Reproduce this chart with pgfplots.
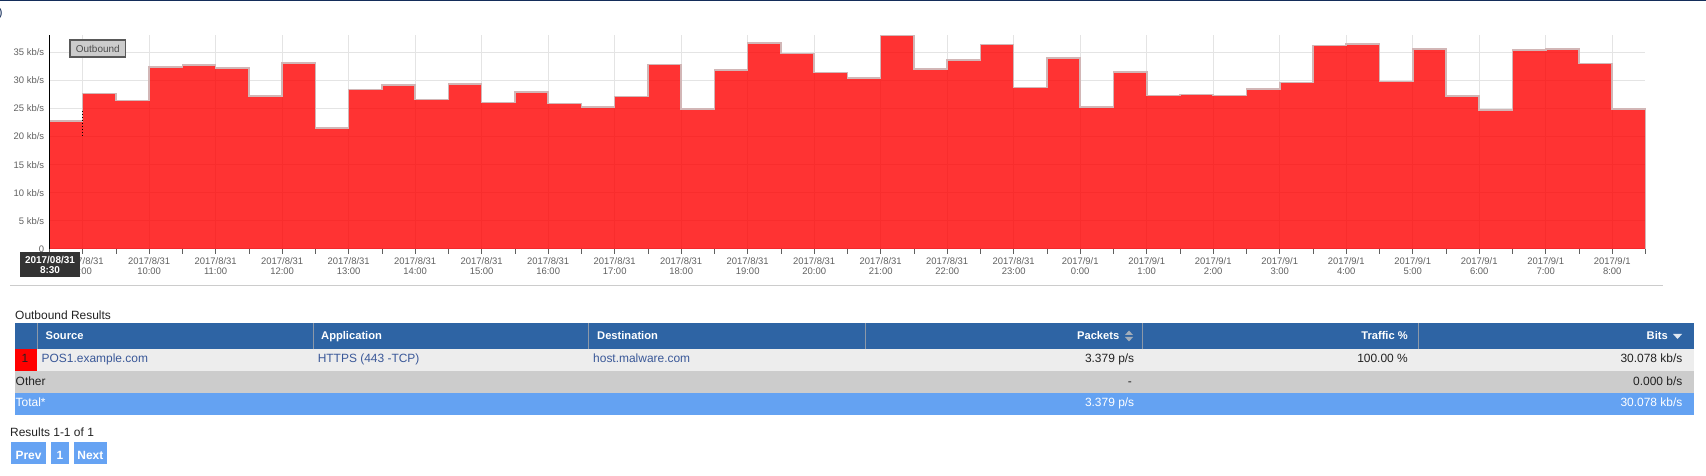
\documentclass[border=0pt]{standalone}
\usepackage{pgfplots}
\pgfplotsset{compat=1.18}
\usepackage{fontspec}
\setmainfont{Liberation Sans}
\definecolor{hdr}{RGB}{46,100,164}
\definecolor{rowa}{RGB}{237,237,237}
\definecolor{rowo}{RGB}{204,204,204}
\definecolor{tot}{RGB}{100,162,242}
\definecolor{btn}{RGB}{102,163,243}
\definecolor{linkc}{RGB}{58,88,152}
\definecolor{lbl}{RGB}{96,96,96}
\definecolor{gridc}{RGB}{228,228,228}
\definecolor{areared}{RGB}{255,0,0}
\definecolor{stepline}{RGB}{210,182,182}
\definecolor{navy}{RGB}{20,45,90}
\definecolor{tipbg}{RGB}{51,51,51}
\definecolor{sepc}{RGB}{140,152,168}
\definecolor{xline}{RGB}{192,208,224}
\definecolor{txt}{RGB}{34,34,34}
\begin{document}
\begin{tikzpicture}
\begin{scope}[x=1bp,y=1bp]
\fill[navy] (0,474.8) rectangle (1706,476);
\end{scope}
\begin{axis}[
  at={(49.4bp,227bp)}, anchor=origin,
  scale only axis, width=1596.1bp, height=214bp,
  xmin=0, xmax=48, ymin=0, ymax=38.08,
  clip=false,
  axis x line*=bottom, axis y line*=left,
  axis line style={-},
  x axis line style={draw=xline, line width=1bp},
  y axis line style={draw=none},
  xtick={1,3,...,47},
  minor xtick={0,2,...,48},
  xticklabels={{2017/8/31\\9:00},{2017/8/31\\10:00},{2017/8/31\\11:00},{2017/8/31\\12:00},{2017/8/31\\13:00},{2017/8/31\\14:00},{2017/8/31\\15:00},{2017/8/31\\16:00},{2017/8/31\\17:00},{2017/8/31\\18:00},{2017/8/31\\19:00},{2017/8/31\\20:00},{2017/8/31\\21:00},{2017/8/31\\22:00},{2017/8/31\\23:00},{2017/9/1\\0:00},{2017/9/1\\1:00},{2017/9/1\\2:00},{2017/9/1\\3:00},{2017/9/1\\4:00},{2017/9/1\\5:00},{2017/9/1\\6:00},{2017/9/1\\7:00},{2017/9/1\\8:00}},
  ytick={0,5,...,35},
  yticklabels={0,5 kb/s,10 kb/s,15 kb/s,20 kb/s,25 kb/s,30 kb/s,35 kb/s},
  xmajorgrids, ymajorgrids,
  major grid style={draw=gridc, line width=1bp},
  tick align=outside,
  major tick length=5bp, minor tick length=5bp,
  xtick style={draw=lbl, line width=0.8bp},
  ytick style={draw=none},
  yticklabel style={font=\fontsize{9.5}{10}\selectfont, text=lbl, inner sep=0},
  xticklabel style={font=\fontsize{9.5}{10}\selectfont, text=lbl, align=center, inner sep=0, yshift=-3bp},
]
\addplot[const plot, fill=areared, fill opacity=0.8, draw=none] coordinates {
(0,22.8) (1,27.7) (2,26.4) (3,32.4) (4,32.7) (5,32.2) (6,27.2) (7,33.1)
(8,21.5) (9,28.4) (10,29.2) (11,26.6) (12,29.4) (13,26.1) (14,27.9) (15,25.9)
(16,25.3) (17,27.1) (18,32.8) (19,24.9) (20,31.9) (21,36.7) (22,34.8) (23,31.4)
(24,30.4) (25,38.0) (26,32.0) (27,33.6) (28,36.4) (29,28.7) (30,34.0) (31,25.3)
(32,31.5) (33,27.3) (34,27.5) (35,27.3) (36,28.5) (37,29.6) (38,36.2) (39,36.5)
(40,29.8) (41,35.6) (42,27.2) (43,24.7) (44,35.4) (45,35.6) (46,33.0) (47,24.9)
(48,24.9)} \closedcycle;
\addplot[const plot, draw=stepline, line width=1.6bp] coordinates {
(0,22.8) (1,27.7) (2,26.4) (3,32.4) (4,32.7) (5,32.2) (6,27.2) (7,33.1)
(8,21.5) (9,28.4) (10,29.2) (11,26.6) (12,29.4) (13,26.1) (14,27.9) (15,25.9)
(16,25.3) (17,27.1) (18,32.8) (19,24.9) (20,31.9) (21,36.7) (22,34.8) (23,31.4)
(24,30.4) (25,38.0) (26,32.0) (27,33.6) (28,36.4) (29,28.7) (30,34.0) (31,25.3)
(32,31.5) (33,27.3) (34,27.5) (35,27.3) (36,28.5) (37,29.6) (38,36.2) (39,36.5)
(40,29.8) (41,35.6) (42,27.2) (43,24.7) (44,35.4) (45,35.6) (46,33.0) (47,24.9)
(48,24.9) (48,0)};
\draw[black, line width=1.6bp] (axis cs:0,0) -- (axis cs:0,38.08);
\end{axis}
\begin{scope}[x=1bp,y=1bp]
\node[anchor=base west, inner sep=0, font=\fontsize{12}{14}\selectfont, text=navy] at (-1.5,459) {)};
% crosshair tooltip pieces
\draw[black, dotted, line width=1bp] (82.7,365) -- (82.7,341);
\node[fill=tipbg, text=white, font=\bfseries\fontsize{10}{10}\selectfont, align=center, minimum width=60bp, minimum height=25.5bp, inner sep=0] at (50,211.5) {2017/08/31\\8:30};
% legend label
\node[draw=gray!70!black, fill=rowo, line width=1.1bp, minimum width=55.7bp, minimum height=17bp, inner sep=0, font=\fontsize{10}{12}\selectfont, text=lbl!80!black] at (97.8,427.5) {Outbound};
% separator
\draw[gray!40, line width=1bp] (10,190) -- (1663,190);
% table
\node[anchor=base west, inner sep=0, font=\fontsize{12}{14}\selectfont, text=txt] at (15,156.7) {Outbound Results};
\fill[hdr] (15,126.7) rectangle (1694,153.3);
\fill[rowa] (15,105) rectangle (1694,126.7);
\fill[red] (15,105) rectangle (36.5,126.7);
\fill[rowo] (15,83.3) rectangle (1694,105);
\fill[tot] (15,61.3) rectangle (1694,83.3);
\foreach \x in {37,313.3,588.6,865,1142.4,1418.8} \draw[sepc, line width=1bp] (\x,126.7) -- (\x,153.3);
\begin{scope}[every node/.style={inner sep=0, font=\bfseries\fontsize{11.2}{13}\selectfont, text=white}]
\node[anchor=base west] at (45.5,136) {Source};
\node[anchor=base west] at (321,136) {Application};
\node[anchor=base west] at (597,136) {Destination};
\node[anchor=base east] at (1119.5,136) {Packets};
\node[anchor=base east] at (1408,136) {Traffic \%};
\node[anchor=base east] at (1668,136) {Bits};
\end{scope}
\fill[sepc!80!white] (1125,141) -- (1133,141) -- (1129,145.5) -- cycle;
\fill[sepc!80!white] (1125,139) -- (1133,139) -- (1129,134.5) -- cycle;
\fill[white!85!hdr] (1673,142) -- (1682,142) -- (1677.5,137) -- cycle;
\begin{scope}[every node/.style={inner sep=0, font=\fontsize{12}{14}\selectfont, text=txt}]
\node[anchor=base] at (25,113.3) {1};
\node[anchor=base west, text=linkc] at (41.5,113.3) {POS1.example.com};
\node[anchor=base west, text=linkc] at (317.6,113.3) {HTTPS (443 -TCP)};
\node[anchor=base west, text=linkc] at (593,113.3) {host.malware.com};
\node[anchor=base east] at (1134.4,113.3) {3.379 p/s};
\node[anchor=base east] at (1408,113.3) {100.00 \%};
\node[anchor=base east] at (1682.5,113.3) {30.078 kb/s};
\node[anchor=base west] at (15.5,90) {Other};
\node[anchor=base east] at (1132,90) {-};
\node[anchor=base east] at (1682.5,90) {0.000 b/s};
\node[anchor=base west, text=white] at (15.5,69.3) {Total*};
\node[anchor=base east, text=white] at (1134.4,69.3) {3.379 p/s};
\node[anchor=base east, text=white] at (1682.5,69.3) {30.078 kb/s};
\node[anchor=base west] at (10,39.3) {Results 1-1 of 1};
\end{scope}
\fill[btn] (11,11.7) rectangle (46,34.3);
\fill[btn] (51,11.7) rectangle (69,34.3);
\fill[btn] (74,11.7) rectangle (106.7,34.3);
\begin{scope}[every node/.style={inner sep=0, font=\bfseries\fontsize{12}{14}\selectfont, text=white, anchor=base}]
\node at (28.5,16) {Prev};
\node at (60,16) {1};
\node at (90.35,16) {Next};
\end{scope}
\pgfresetboundingbox
\path[use as bounding box] (0,0) rectangle (1706,476);
\end{scope}
\end{tikzpicture}
\end{document}
